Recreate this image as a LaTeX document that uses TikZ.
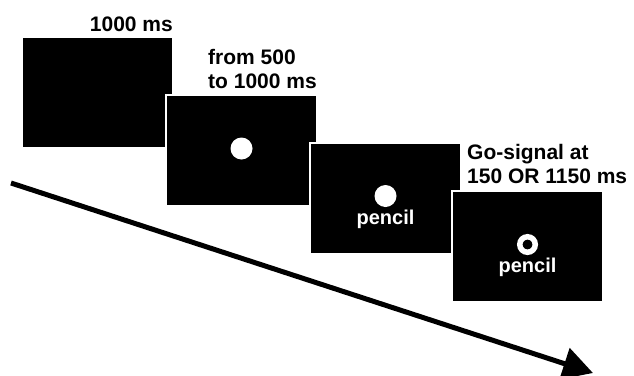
\documentclass[tikz,border=0pt]{standalone}
\usepackage{fontspec}
\setmainfont{Liberation Sans}
\usetikzlibrary{arrows.meta,positioning}

\begin{document}
\begin{tikzpicture}[x=1pt,y=-1pt,
        screen/.style={fill=black,draw=white,line width=2pt,minimum width=151pt,minimum height=111pt,inner sep=0pt,outer sep=0pt,anchor=north west},
        timing/.style={font=\bfseries\fontsize{21}{24}\selectfont,inner sep=0pt,align=left},
        word/.style={text=white,font=\bfseries\fontsize{20}{24}\selectfont,inner sep=0pt,anchor=base},
        dot/.style={circle,fill=white,minimum size=22pt,inner sep=0pt},
        ring/.style={circle,draw=white,line width=5.5pt,minimum size=15.5pt,inner sep=0pt},
        timeline/.style={line width=5pt,-{Triangle[length=30pt,width=32pt]}}]
            \useasboundingbox (0,0) rectangle (634,375);
            % screens, later ones on top
            \node[screen] (s1) at (22,37) {};
            \node[screen] (s2) at (166,95) {};
            \node[screen] (s3) at (310,143) {};
            \node[screen] (s4) at (452,191) {};
            % durations
            \node[timing,anchor=south east] (l1) at ([yshift=5pt]s1.north east) {1000 ms};
            \node[timing,anchor=south east] (l2) at ([yshift=6pt]s2.north east) {from 500\\to 1000 ms};
            \node[timing,anchor=south west] (l4) at ([xshift=15pt,yshift=7pt]s4.north west) {Go-signal at\\150 OR 1150 ms};
            % stimuli
            \node[dot] (d2) at ([yshift=2pt]s2.center) {};
            \node[dot] (d3) at ([yshift=2.5pt]s3.center) {};
            \node[word] (w3) at ([yshift=-26pt]s3.center) {pencil};
            \node[ring] (d4) at ([yshift=2pt]s4.center) {};
            \node[word] (w4) at ([yshift=-26pt]s4.center) {pencil};
            % time axis
            \coordinate (t0) at (11,183);
            \coordinate (t1) at (593,373);
            \draw[timeline] (t0) -- (t1);
        \end{tikzpicture}
\end{document}
